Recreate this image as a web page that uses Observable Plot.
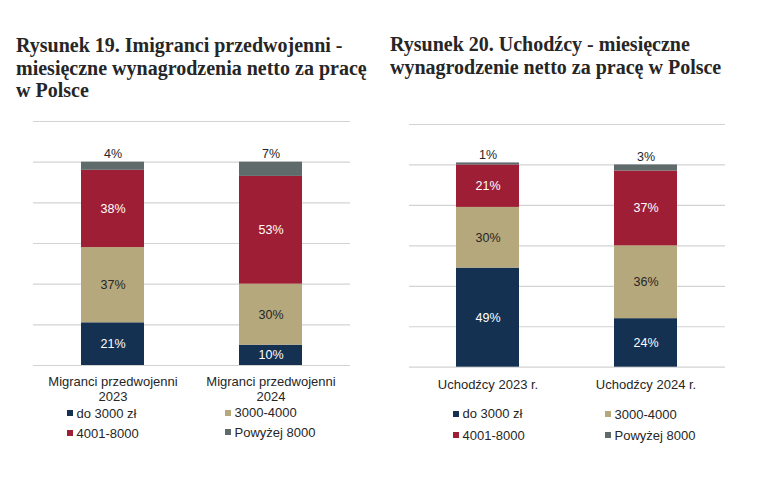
<!DOCTYPE html>
<html>
<head>
<meta charset="utf-8">
<script src="https://cdn.jsdelivr.net/npm/d3@7"></script>
<script src="https://cdn.jsdelivr.net/npm/@observablehq/plot@0.6"></script>
<style>
  html, body { margin: 0; padding: 0; background: #ffffff; }
  #page { position: relative; width: 768px; height: 477px; overflow: hidden; background: #fff; }
  .title { position: absolute; font-family: "Liberation Serif", "Times New Roman", serif; font-weight: bold;
           font-size: 20px; line-height: 22.5px; color: #262626; white-space: nowrap; }
  .chart { position: absolute; top: 100px; }
  .lg-sq { position: absolute; width: 6px; height: 6px; }
  .lg-tx { position: absolute; font-family: "Liberation Sans", Arial, sans-serif; font-size: 13px;
           line-height: 15px; color: #262626; white-space: nowrap; }
</style>
</head>
<body>
<div id="page">
  <div class="title" style="left:16px; top:34px;">Rysunek 19. Imigranci przedwojenni -<br>miesięczne wynagrodzenia netto za pracę<br>w Polsce</div>
  <div class="title" style="left:390px; top:33px;">Rysunek 20. Uchodźcy - miesięczne<br>wynagrodzenie netto za pracę w Polsce</div>
  <div class="chart" id="c1" style="left:0px;"></div>
  <div class="chart" id="c2" style="left:384px;"></div>
</div>
<script>
// ---- data ----
const series = ["do 3000 zł", "3000-4000", "4001-8000", "Powyżej 8000"];
const colors = ["#143152", "#b5a87c", "#9e1f35", "#5f6a6b"];
const yTicks = [0, 20, 40, 60, 80, 100, 120];

const categories1 = ["Migranci przedwojenni\n2023", "Migranci przedwojenni\n2024"];
const values1_2023 = [21, 37, 38, 4];
const values1_2024 = [10, 30, 53, 7];

const categories2 = ["Uchodźcy 2023 r.", "Uchodźcy 2024 r."];
const values2_2023 = [49, 30, 21, 1];
const values2_2024 = [24, 36, 37, 3];

function rowsFor(categories, valueLists) {
  const rows = [];
  categories.forEach((cat, i) => {
    series.forEach((s, j) => rows.push({cat, series: s, value: valueLists[i][j]}));
  });
  return rows;
}

const whiteSeries = [series[0], series[2]];
const darkSeries = [series[1]];
const topSeries = series[3];

function makeChart(categories, rows, m) {
  const common = {x: "cat", y: "value", z: "series", order: series};
  return Plot.plot({
    width: 384,
    height: 310,
    marginTop: m.top, marginBottom: m.bottom, marginLeft: m.left, marginRight: m.right,
    style: {fontFamily: "'Liberation Sans', Arial, sans-serif", background: "transparent", overflow: "visible"},
    x: {domain: categories, paddingInner: 0.6, paddingOuter: 0.3, label: null, axis: null},
    y: {domain: [0, 120], axis: null},
    color: {domain: series, range: colors},
    marks: [
      Plot.ruleY(yTicks, {stroke: "#d3d3d3", strokeWidth: 1.2}),
      Plot.barY(rows, {...common, fill: "series"}),
      Plot.text(rows, Plot.stackY({...common,
        text: d => whiteSeries.includes(d.series) ? d.value + "%" : null,
        fill: "#ffffff", fontSize: 12.5})),
      Plot.text(rows, Plot.stackY({...common,
        text: d => darkSeries.includes(d.series) ? d.value + "%" : null,
        fill: "#262626", fontSize: 12.5})),
      Plot.text(rows, Plot.stackY2({...common,
        text: d => d.series === topSeries ? d.value + "%" : null,
        fill: "#262626", fontSize: 12.5, lineAnchor: "bottom", dy: -4})),
      Plot.axisX({tickSize: 0, tickPadding: m.pad, fontSize: 13, lineHeight: 1.08, color: "#262626", label: null})
    ]
  });
}

document.getElementById("c1").appendChild(
  makeChart(categories1, rowsFor(categories1, [values1_2023, values1_2024]),
            {top: 21, bottom: 45, left: 33, right: 34, pad: 11}));
document.getElementById("c2").appendChild(
  makeChart(categories2, rowsFor(categories2, [values2_2023, values2_2024]),
            {top: 24, bottom: 43.3, left: 25, right: 43, pad: 11.5}));

// ---- legends (HTML, colours from the same arrays) ----
function legend(positions) {
  const page = document.getElementById("page");
  series.forEach((s, i) => {
    const p = positions[i];
    const sq = document.createElement("div");
    sq.className = "lg-sq";
    sq.style.left = p[0] + "px"; sq.style.top = p[1] + "px";
    sq.style.background = colors[i];
    page.appendChild(sq);
    const tx = document.createElement("div");
    tx.className = "lg-tx";
    tx.textContent = s;
    tx.style.left = (p[0] + 9.5) + "px";
    tx.style.top = (p[1] + 7.5 - 12) + "px";
    page.appendChild(tx);
  });
}
legend([[67, 410], [225, 409.5], [67, 430], [225, 429]]);
legend([[453, 410.5], [605, 411], [453, 432], [605, 432]]);
</script>
</body>
</html>
